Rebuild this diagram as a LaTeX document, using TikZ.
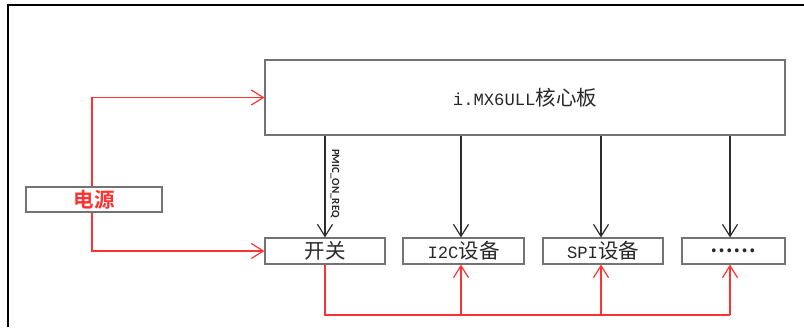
\documentclass[tikz,border=0pt]{standalone}
\usepackage{fontspec}
\newfontfamily\cjk{Noto Sans CJK SC}
\newfontfamily\cjkbold{Noto Sans CJK SC Bold}
\newfontfamily\monofnt[Scale=0.84]{Liberation Mono}
\newfontfamily\calfnt{Carlito}
\usetikzlibrary{arrows.meta}
\definecolor{boxgray}{RGB}{115,115,115}
\definecolor{linered}{RGB}{255,50,50}
\definecolor{darkline}{RGB}{45,45,45}
\definecolor{txt}{RGB}{40,40,40}
\tikzset{
  tipstyle/.style={-{Straight Barb[length=12pt,width=15pt,line width=1.2pt]}},
}
\begin{document}
\begin{tikzpicture}[x=1pt,y=-1pt,
  box/.style={draw=boxgray,line width=1.1pt,inner sep=0pt,text=txt,
    font=\fontsize{20.5}{22}\selectfont},
  redline/.style={draw=linered,line width=1.2pt},
  redarrow/.style={redline,tipstyle},
  blackarrow/.style={draw=darkline,line width=1.2pt,tipstyle},
]
\useasboundingbox (0,0) rectangle (804,327);
% outer frame
\draw[line width=2pt,black] (8,327) -- (8,5) -- (804,5);

\node[box,minimum width=520pt,minimum height=75pt] (main) at (525,97.5)
  {{\monofnt i.MX6ULL}{\cjk 核心板}};
\node[box,minimum width=136pt,minimum height=25pt,text=linered] (dy) at (94,199.5)
  {\cjkbold 电源};
\node[box,minimum width=120pt,minimum height=26pt] (kg) at (325,251)
  {\cjk 开关};
\node[box,minimum width=121pt,minimum height=26pt] (i2c) at (463.5,251)
  {{\monofnt I2C}{\cjk 设备}};
\node[box,minimum width=120pt,minimum height=26pt] (spi) at (603,251)
  {{\monofnt SPI}{\cjk 设备}};
\node[box,minimum width=103pt,minimum height=26pt] (dots) at (733.5,251)
  {\cjkbold ……};

% power lines
\draw[redarrow] ([xshift=-2pt]dy.north) |- (main.west);
\draw[redarrow] ([xshift=-2pt]dy.south) |- (kg.west);

% control lines
\draw[blackarrow] (main.south -| kg.north) -- (kg.north)
  node[pos=0.47,right=3pt,rotate=-90,anchor=south,font=\calfnt\bfseries\fontsize{11}{12}\selectfont,text=txt,inner sep=2pt] {PMIC\_ON\_REQ};
\draw[blackarrow] ([xshift=-2.5pt]main.south -| i2c.north) -- ([xshift=-2.5pt]i2c.north);
\draw[blackarrow] ([xshift=-2pt]main.south -| spi.north) -- ([xshift=-2pt]spi.north);
\draw[blackarrow] ([xshift=-3.5pt]main.south -| dots.north) -- ([xshift=-3.5pt]dots.north);

% switched power bus
\coordinate (bus) at (0,315);
\draw[redline] (kg.south) |- ([xshift=-3.5pt]bus -| dots.south);
\draw[redarrow] ([xshift=-2.5pt]bus -| i2c.south) -- ([xshift=-2.5pt]i2c.south);
\draw[redarrow] ([xshift=-2pt]bus -| spi.south) -- ([xshift=-2pt]spi.south);
\draw[redarrow] ([xshift=-3.5pt]bus -| dots.south) -- ([xshift=-3.5pt]dots.south);
\end{tikzpicture}
\end{document}
